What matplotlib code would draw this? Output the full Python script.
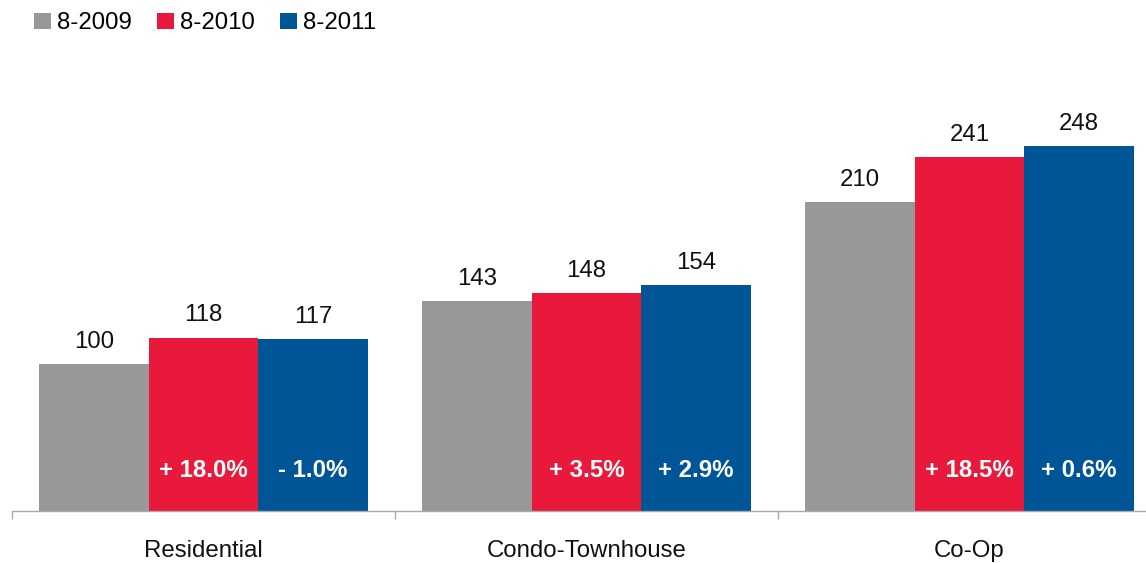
import matplotlib
matplotlib.use("Agg")
import matplotlib.pyplot as plt
import numpy as np

categories = ["Residential", "Condo-Townhouse", "Co-Op"]
series_names = ["8-2009", "8-2010", "8-2011"]
values_2009 = [100, 143, 210]
values_2010 = [118, 148, 241]
values_2011 = [117, 154, 248]
pct_2010 = ["+ 18.0%", "+ 3.5%", "+ 18.5%"]
pct_2011 = ["- 1.0%", "+ 2.9%", "+ 0.6%"]

colors = ["#989898", "#E8193A", "#005596"]

plt.rcParams['font.family'] = ['Liberation Sans', 'DejaVu Sans']

W, H = 1146, 563
fs = 17.3
fig = plt.figure(figsize=(W / 100, H / 100), dpi=100)
ax_left = 12 / W
ax_bottom = (H - 511) / H
ax_top = 40 / H
ax = fig.add_axes([ax_left, ax_bottom, 1 - ax_left, 1 - ax_bottom - ax_top])

scale = 1.47  # px per unit
ax.set_ylim(0, (511 - 40) / scale)
group_px = 383
ax.set_xlim(-0.5, -0.5 + (W - 12) / group_px)

x = np.arange(len(categories))
bw = 0.286
all_vals = [values_2009, values_2010, values_2011]
for i, (vals, c, name) in enumerate(zip(all_vals, colors, series_names)):
    xs = x + (i - 1) * bw
    ax.bar(xs, vals, width=bw, color=c, label=name, linewidth=0)
    for xi, v in zip(xs, vals):
        ax.annotate(str(v), (xi, v), xytext=(0, 8), textcoords="offset points",
                    ha="center", va="bottom", fontsize=fs, color="#111111")

for xs, labs in [(x, pct_2010), (x + bw, pct_2011)]:
    for xi, lab in zip(xs, labs):
        ax.text(xi, 27.5, lab, ha="center", va="center", fontsize=fs,
                fontweight="bold", color="white")

for s in ["top", "right", "left"]:
    ax.spines[s].set_visible(False)
ax.spines["bottom"].set_color("#aaaaaa")
ax.spines["bottom"].set_linewidth(1.0)
ax.set_yticks([])
ax.set_xticks(x)
ax.set_xticklabels(categories, fontsize=fs, color="#111111")
ax.tick_params(axis="x", which="major", length=0, pad=21)
ax.set_xticks([-0.5, 0.5, 1.5], minor=True)
ax.tick_params(axis="x", which="minor", length=6, color="#aaaaaa", width=1.0)

leg = fig.legend(loc="upper left", bbox_to_anchor=(0.0215, 0.995), ncol=3, frameon=False,
                 fontsize=fs, handlelength=0.7, handleheight=0.7,
                 handletextpad=0.25, columnspacing=1.05, borderaxespad=0)

fig.savefig("out.png", dpi=100)
